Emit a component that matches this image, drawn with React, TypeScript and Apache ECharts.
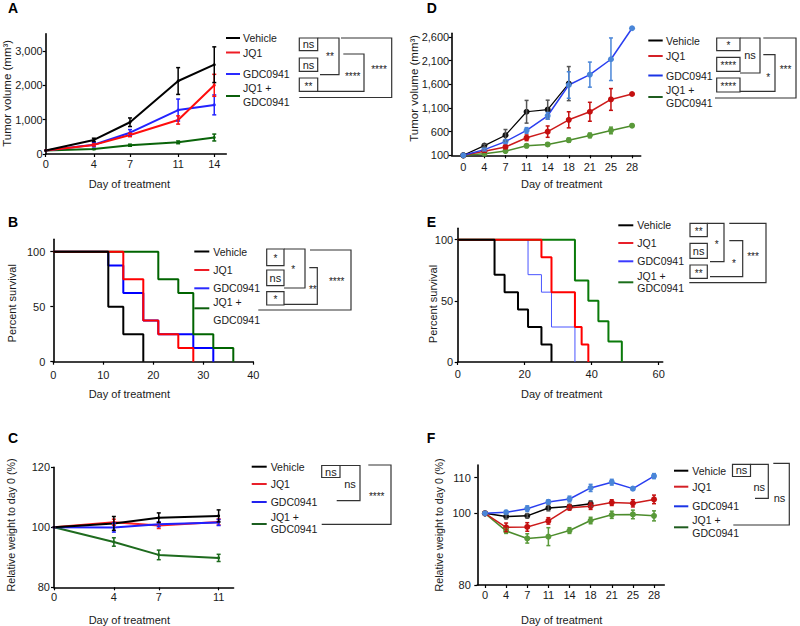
import React, { useEffect, useRef } from "react";
import * as echarts from "echarts";

const groupNames = ["Vehicle", "JQ1", "GDC0941", "JQ1 + GDC0941"];

// ---- Panel A: tumor volume ----
const aDays = [0, 4, 7, 11, 14];
const aVehicle = [100, 410, 925, 2125, 2600];
const aVehicleErr = [0, 50, 125, 390, 520];
const aJQ1 = [100, 265, 555, 990, 2000];
const aJQ1Err = [0, 30, 50, 120, 320];
const aGDC = [100, 270, 620, 1280, 1430];
const aGDCErr = [0, 60, 90, 320, 290];
const aCombo = [100, 145, 255, 340, 480];
const aComboErr = [0, 15, 30, 40, 100];
const aXTicks = [0, 4, 7, 11, 14];
const aYTicks = [0, 1000, 2000, 3000];

// ---- Panel B: survival ----
const bVehicleDays = [0, 11, 14, 18];
const bVehicleSurv = [100, 50, 25, 0];
const bJQ1Days = [0, 14, 18, 21, 25, 28];
const bJQ1Surv = [100, 75, 37.5, 25, 12.5, 0];
const bGDCDays = [0, 11, 14, 18, 21, 28, 32];
const bGDCSurv = [100, 87.5, 62.5, 37.5, 25, 12.5, 0];
const bComboDays = [0, 21, 25, 28, 32, 36];
const bComboSurv = [100, 75, 62.5, 25, 12.5, 0];
const bXTicks = [0, 10, 20, 30, 40];
const bYTicks = [0, 50, 100];

// ---- Panel C: body weight ----
const cDays = [0, 4, 7, 11];
const cVehicle = [100, 101.3, 103.2, 103.8];
const cVehicleErr = [0, 2.3, 1.6, 2.0];
const cJQ1 = [100, 101.7, 100.6, 101.8];
const cJQ1Err = [0, 1.0, 1.0, 1.0];
const cGDC = [100, 99.9, 101.0, 101.6];
const cGDCErr = [0, 1.5, 0.8, 1.0];
const cCombo = [100, 95.1, 90.8, 89.8];
const cComboErr = [0, 1.4, 1.6, 1.2];
const cXTicks = [0, 4, 7, 11];
const cYTicks = [80, 100, 120];

// ---- Panel D: tumor volume ----
const dDays = [0, 4, 7, 11, 14, 18, 21, 25, 28];
const dVehicle = [100, 305, 525, 1020, 1065, 1615];
const dVehicleErr = [0, 30, 120, 240, 200, 360];
const dJQ1 = [100, 185, 277, 470, 600, 850, 1020, 1280, 1395];
const dJQ1Err = [0, 20, 40, 60, 120, 170, 200, 230, 0];
const dGDC = [100, 220, 390, 625, 935, 1585, 1805, 2130, 2785];
const dGDCErr = [0, 25, 40, 60, 70, 280, 265, 450, 0];
const dCombo = [100, 135, 190, 300, 330, 420, 520, 625, 725];
const dComboErr = [0, 15, 25, 35, 30, 45, 50, 70, 0];
const dYTicks = [100, 600, 1100, 1600, 2100, 2600];

// ---- Panel E: survival ----
const eVehicleDays = [0, 11, 14, 18, 21, 25, 28];
const eVehicleSurv = [100, 71.4, 57.1, 42.9, 28.6, 14.3, 0];
const eJQ1Days = [0, 25, 28, 35, 37, 39];
const eJQ1Surv = [100, 85.7, 57.1, 28.6, 14.3, 0];
const eGDCDays = [0, 21, 25, 28, 35];
const eGDCSurv = [100, 71.4, 57.1, 28.6, 0];
const eComboDays = [0, 35, 39, 42, 45, 49];
const eComboSurv = [100, 66.7, 50, 33.3, 16.7, 0];
const eXTicks = [0, 20, 40, 60];
const eYTicks = [0, 50, 100];

// ---- Panel F: body weight ----
const fDays = [0, 4, 7, 11, 14, 18, 21, 25, 28];
const fVehicle = [100, 99.1, 99.3, 101.5, 101.9, 102.7];
const fVehicleErr = [0, 0.6, 0.6, 0.8, 0.6, 0.8];
const fJQ1 = [100, 96.1, 96.2, 97.9, 101.6, 102.0, 103.0, 102.8, 103.9];
const fJQ1Err = [0, 1.2, 1.2, 0.9, 0.7, 0.9, 0.8, 1.0, 1.2];
const fGDC = [100, 100.3, 101.3, 103.2, 104.0, 107.1, 108.7, 106.9, 110.4];
const fGDCErr = [0, 0.5, 0.8, 0.6, 0.8, 1.0, 0.8, 0.4, 0.7];
const fCombo = [100, 95.1, 93.0, 93.5, 95.2, 98.0, 99.6, 99.7, 99.3];
const fComboErr = [0, 0.7, 1.3, 2.5, 0.8, 0.9, 1.0, 1.2, 1.4];
const fYTicks = [80, 100, 110];

const FONT = "'Liberation Sans', Arial, Helvetica, sans-serif";
const TXT = "#1a1a1a";
const BR = "#333333";

const fmtComma = (v: number) => Number(v).toLocaleString("en-US");

function xAxisCfg(grid: number, min: number, max: number, ticks: number[], margin: number, fmt?: (v: number) => string) {
  return {
    type: "value", gridIndex: grid, min, max,
    axisLine: { show: true, onZero: false, lineStyle: { color: "#000", width: 1.6 } },
    axisTick: { show: true, length: 3, customValues: ticks, lineStyle: { color: "#000", width: 1.2 } },
    axisLabel: { customValues: ticks, margin, color: TXT, fontSize: 11, fontFamily: FONT, formatter: fmt || ((v: number) => String(v)) },
    splitLine: { show: false },
  };
}
function yAxisCfg(grid: number, min: number, max: number, ticks: number[], margin: number, fmt?: (v: number) => string) {
  return {
    type: "value", gridIndex: grid, min, max,
    axisLine: { show: true, onZero: false, lineStyle: { color: "#000", width: 1.6 } },
    axisTick: { show: true, length: 3, customValues: ticks, lineStyle: { color: "#000", width: 1.2 } },
    axisLabel: { customValues: ticks, margin, color: TXT, fontSize: 11, fontFamily: FONT, formatter: fmt || ((v: number) => String(v)) },
    splitLine: { show: false },
  };
}

function lineS(idx: number, name: string, pts: number[][], color: string, width: number, sym = 0, symColor?: string, z = 2, step?: string) {
  return {
    type: "line", name, xAxisIndex: idx, yAxisIndex: idx, data: pts, step: step || false,
    lineStyle: { color, width }, itemStyle: { color: symColor || color, borderWidth: 0 },
    symbol: sym ? "circle" : "none", symbolSize: sym, showSymbol: !!sym,
    clip: false, silent: true, z,
  };
}

function errS(idx: number, pts: number[][], color: string, width: number, cap: number, z = 3) {
  return {
    type: "custom", xAxisIndex: idx, yAxisIndex: idx, silent: true, clip: false, z,
    encode: { x: 0, y: 1 },
    data: pts.filter((p) => p[2] > 0),
    renderItem: (params: any, api: any) => {
      const x = api.value(0), y = api.value(1), e = api.value(2);
      const t = api.coord([x, y + e]);
      const b = api.coord([x, y - e]);
      const st = { stroke: color, lineWidth: width };
      return {
        type: "group",
        children: [
          { type: "line", shape: { x1: t[0], y1: t[1], x2: b[0], y2: b[1] }, style: st },
          { type: "line", shape: { x1: t[0] - cap, y1: t[1], x2: t[0] + cap, y2: t[1] }, style: st },
          { type: "line", shape: { x1: b[0] - cap, y1: b[1], x2: b[0] + cap, y2: b[1] }, style: st },
        ],
      };
    },
  };
}

const zip = (xs: number[], ys: number[]) => ys.map((v, i) => [xs[i], v]);
const zipIdx = (ys: number[]) => ys.map((v, i) => [i, v]);
const zip3 = (xs: number[], ys: number[], es: number[]) => ys.map((v, i) => [xs[i], v, es[i]]);
const zip3Idx = (ys: number[], es: number[]) => ys.map((v, i) => [i, v, es[i]]);

function txt(x: number, y: number, text: string, o: any = {}) {
  return {
    type: "text", x, y, rotation: o.rot || 0, silent: true, z: 10,
    style: {
      text, fill: o.color || TXT, fontSize: o.size || 10.5, fontFamily: FONT,
      fontWeight: o.weight || "normal", align: o.align || "left", verticalAlign: "middle",
    },
  };
}
function ln(x1: number, y1: number, x2: number, y2: number, color: string, w: number) {
  return { type: "line", silent: true, z: 10, shape: { x1, y1, x2, y2 }, style: { stroke: color, lineWidth: w } };
}

function legendEls(lx1: number, lx2: number, tx: number, ys: number[], colors: string[]) {
  const comboParts = groupNames[3].split(" + ");
  return [
    ln(lx1, ys[0], lx2, ys[0], colors[0], 2),
    txt(tx, ys[0], groupNames[0]),
    ln(lx1, ys[1], lx2, ys[1], colors[1], 2),
    txt(tx, ys[1], groupNames[1]),
    ln(lx1, ys[2], lx2, ys[2], colors[2], 2),
    txt(tx, ys[2], groupNames[2]),
    ln(lx1, ys[3], lx2, ys[3], colors[3], 2),
    txt(tx, ys[4], comboParts[0] + " +"),
    txt(tx, ys[5], comboParts[1]),
  ];
}

function boxEl(x1: number, x2: number, y1: number, y2: number, label: string) {
  return [
    { type: "rect", silent: true, z: 10, shape: { x: x1, y: y1, width: x2 - x1, height: y2 - y1 }, style: { stroke: BR, fill: "none", lineWidth: 1.2 } },
    txt((x1 + x2) / 2, (y1 + y2) / 2 + (label.includes("*") ? 1.5 : 0), label, { align: "center", size: label.includes("*") ? 10 : 11 }),
  ];
}
function bracketEl(pts: number[][], label: string, lx: number, ly: number) {
  return [
    { type: "polyline", silent: true, z: 10, shape: { points: pts }, style: { stroke: BR, fill: "none", lineWidth: 1.2 } },
    txt(lx, ly + (label.includes("*") ? 1.5 : 0), label, { align: "center", size: label.includes("*") ? 10 : 11 }),
  ];
}

const BLK = "#000000";

export default function App() {
  const ref = useRef<HTMLDivElement>(null);
  useEffect(() => {
    document.body.style.margin = "0";
    const chart = echarts.init(ref.current!, null, { renderer: "svg", width: 800, height: 626 });

    const red = "#ff0d0d", blue = "#2323ff", green = "#0a640a";
    const dRed = "#cc1a1a", dRedM = "#c41010", dBlue = "#2a3ff0", dBlueM = "#4a86d8", dGreen = "#4c8c2c", dGreenM = "#5a9a3a";

    const grids = [
      { left: 45.7, top: 33.8, width: 180.6, height: 120.2 }, // A
      { left: 53.3, top: 239.3, width: 200, height: 122.4 }, // B
      { left: 54, top: 467.3, width: 179.6, height: 120 }, // C
      { left: 451.7, top: 33.3, width: 189, height: 122 }, // D
      { left: 457.7, top: 228.3, width: 205, height: 133.7 }, // E
      { left: 477.3, top: 465, width: 187, height: 120 }, // F
    ];

    const dayFmt = (v: number) => String(dDays[Math.round(v)]);
    const fdayFmt = (v: number) => String(fDays[Math.round(v)]);

    const xAxes = [
      xAxisCfg(0, 0, 15, aXTicks, 4),
      xAxisCfg(1, 0, 40, bXTicks, 8),
      xAxisCfg(2, 0, 12, cXTicks, 4),
      xAxisCfg(3, -0.55, 8.41, dDays.map((_, i) => i), 6, dayFmt),
      xAxisCfg(4, 0, 61.2, eXTicks, 6),
      xAxisCfg(5, -0.364, 8.487, fDays.map((_, i) => i), 4.5, fdayFmt),
    ];
    const yAxes = [
      yAxisCfg(0, 0, 3500, aYTicks, 3, fmtComma),
      yAxisCfg(1, 0, 111.3, bYTicks, 8),
      yAxisCfg(2, 80, 120, cYTicks, 4),
      yAxisCfg(3, 100, 2678, dYTicks, 2.5, fmtComma),
      yAxisCfg(4, 0, 109.3, eYTicks, 4.5),
      yAxisCfg(5, 80, 113.5, fYTicks, 6.5),
    ];

    const series: any[] = [
      // A
      lineS(0, groupNames[3], zip(aDays, aCombo), green, 2, 3),
      lineS(0, groupNames[2], zip(aDays, aGDC), blue, 2, 3),
      lineS(0, groupNames[1], zip(aDays, aJQ1), red, 2, 3),
      lineS(0, groupNames[0], zip(aDays, aVehicle), BLK, 2, 3),
      errS(0, zip3(aDays, aCombo, aComboErr), green, 1.5, 2),
      errS(0, zip3(aDays, aGDC, aGDCErr), blue, 1.5, 2),
      errS(0, zip3(aDays, aJQ1, aJQ1Err), red, 1.5, 2),
      errS(0, zip3(aDays, aVehicle, aVehicleErr), BLK, 1.5, 2),
      // B
      lineS(1, groupNames[2], zip(bGDCDays, bGDCSurv), "#0000ff", 2, 0, undefined, 2, "end"),
      lineS(1, groupNames[3], zip(bComboDays, bComboSurv), "#006400", 2, 0, undefined, 3, "end"),
      lineS(1, groupNames[1], zip(bJQ1Days, bJQ1Surv), "#ff0000", 2, 0, undefined, 4, "end"),
      lineS(1, groupNames[0], zip(bVehicleDays, bVehicleSurv), BLK, 2, 0, undefined, 5, "end"),
      // C
      lineS(2, groupNames[3], zip(cDays, cCombo), "#1e6b1e", 2, 3),
      lineS(2, groupNames[1], zip(cDays, cJQ1), "#ff2020", 2, 3),
      lineS(2, groupNames[2], zip(cDays, cGDC), "#2020ff", 2, 3),
      lineS(2, groupNames[0], zip(cDays, cVehicle), BLK, 2, 3),
      errS(2, zip3(cDays, cCombo, cComboErr), "#1e6b1e", 1.5, 2),
      errS(2, zip3(cDays, cJQ1, cJQ1Err), "#ff2020", 1.5, 2),
      errS(2, zip3(cDays, cGDC, cGDCErr), "#2020ff", 1.5, 2),
      errS(2, zip3(cDays, cVehicle, cVehicleErr), BLK, 1.5, 2),
      // D
      lineS(3, groupNames[3], zipIdx(dCombo), dGreen, 1.5, 6, dGreenM),
      lineS(3, groupNames[1], zipIdx(dJQ1), dRed, 1.5, 6, dRedM),
      lineS(3, groupNames[0], zipIdx(dVehicle), BLK, 1.2, 6, "#111"),
      lineS(3, groupNames[2], zipIdx(dGDC), dBlue, 1.5, 6, dBlueM),
      errS(3, zip3Idx(dCombo, dComboErr), dGreenM, 1.5, 2),
      errS(3, zip3Idx(dJQ1, dJQ1Err), dRedM, 1.5, 2),
      errS(3, zip3Idx(dVehicle, dVehicleErr), "#555", 1.5, 2),
      errS(3, zip3Idx(dGDC, dGDCErr), dBlueM, 1.5, 2),
      // E
      lineS(4, groupNames[2], zip(eGDCDays, eGDCSurv), "#4a55ff", 1, 0, undefined, 2, "end"),
      lineS(4, groupNames[3], zip(eComboDays, eComboSurv), "#0a7a0a", 2, 0, undefined, 3, "end"),
      lineS(4, groupNames[1], zip(eJQ1Days, eJQ1Surv), "#ff0000", 2, 0, undefined, 4, "end"),
      lineS(4, groupNames[0], zip(eVehicleDays, eVehicleSurv), BLK, 2, 0, undefined, 5, "end"),
      // F
      lineS(5, groupNames[3], zipIdx(fCombo), dGreen, 1.5, 6, dGreenM),
      lineS(5, groupNames[0], zipIdx(fVehicle), BLK, 1.5, 6, "#111"),
      lineS(5, groupNames[1], zipIdx(fJQ1), dRed, 1.5, 6, dRedM),
      lineS(5, groupNames[2], zipIdx(fGDC), dBlue, 1.5, 6, dBlueM),
      errS(5, zip3Idx(fCombo, fComboErr), dGreenM, 1.5, 2),
      errS(5, zip3Idx(fVehicle, fVehicleErr), "#555", 1.5, 2),
      errS(5, zip3Idx(fJQ1, fJQ1Err), dRedM, 1.5, 2),
      errS(5, zip3Idx(fGDC, fGDCErr), dBlueM, 1.5, 2),
    ];

    const legColsA = [BLK, "#ee1c25", "#2a2aff", "#0b5e0b"];
    const legColsD = [BLK, "#d42026", "#1a34e6", "#1f5c1f"];

    const graphics: any[] = [
      // panel letters
      txt(8, 7.5, "A", { size: 14, weight: "bold", color: "#000" }),
      txt(8, 221.7, "B", { size: 14, weight: "bold", color: "#000" }),
      txt(8, 438.3, "C", { size: 14, weight: "bold", color: "#000" }),
      txt(426.7, 7.5, "D", { size: 14, weight: "bold", color: "#000" }),
      txt(426.7, 221.7, "E", { size: 14, weight: "bold", color: "#000" }),
      txt(426.7, 438.3, "F", { size: 14, weight: "bold", color: "#000" }),
      // axis titles
      txt(7, 93.3, "Tumor volume (mm\u00B3)", { size: 11.5, rot: Math.PI / 2, align: "center" }),
      txt(129.3, 184, "Day of treatment", { size: 11, align: "center" }),
      txt(11.7, 303.3, "Percent survival", { size: 11, rot: Math.PI / 2, align: "center" }),
      txt(129.3, 394, "Day of treatment", { size: 11, align: "center" }),
      txt(11, 525, "Relative weight to day 0 (%)", { size: 10.7, rot: Math.PI / 2, align: "center" }),
      txt(129.3, 620, "Day of treatment", { size: 11, align: "center" }),
      txt(413.7, 88.3, "Tumor volume (mm\u00B3)", { size: 11.5, rot: Math.PI / 2, align: "center" }),
      txt(561.7, 184, "Day of treatment", { size: 11, align: "center" }),
      txt(432.5, 304, "Percent survival", { size: 11, rot: Math.PI / 2, align: "center" }),
      txt(561.7, 394, "Day of treatment", { size: 11, align: "center" }),
      txt(438.7, 525, "Relative weight to day 0 (%)", { size: 10.7, rot: Math.PI / 2, align: "center" }),
      txt(561.7, 620, "Day of treatment", { size: 11, align: "center" }),
      // legends
      ...legendEls(226, 240, 243, [38, 52.5, 74, 96, 88, 101.5], legColsA),
      ...legendEls(194.3, 209.3, 213.3, [251.5, 270, 288.3, 308.3, 301.7, 320], legColsA),
      ...legendEls(251.7, 266.7, 270.7, [466.7, 484, 502, 524, 516.7, 529.3], [BLK, "#e8202a", "#2222ee", "#1b5e20"]),
      ...legendEls(648.3, 662.7, 666, [40.5, 56, 75.5, 97, 89.7, 103], legColsD),
      ...legendEls(618.3, 633.3, 637.3, [225.3, 243, 261.3, 282.3, 275.7, 288.3], [BLK, "#e8202a", "#3a3aff", "#1b6e1b"]),
      ...legendEls(674, 688.3, 692.3, [470.7, 486.7, 506.3, 527.3, 520, 533.3], legColsD),
      // A significance
      ...boxEl(299.3, 317.7, 38, 50.7, "ns"),
      ...boxEl(299.3, 317.7, 58, 71.3, "ns"),
      ...boxEl(299.3, 317.7, 78, 91.3, "**"),
      ...bracketEl([[317.7, 38], [339, 38], [339, 74.7], [320, 74.7]], "**", 330, 54.7),
      ...bracketEl([[343.3, 54], [364, 54], [364, 91.3], [317.7, 91.3]], "****", 352.7, 74.7),
      ...bracketEl([[341, 38], [391.7, 38], [391.7, 97.5], [299.3, 97.5]], "****", 379, 68),
      // B significance
      ...boxEl(266.7, 284, 249, 265.7, "*"),
      ...boxEl(266.7, 284, 270, 285.7, "ns"),
      ...boxEl(266.7, 284, 291.7, 305, "*"),
      ...bracketEl([[284, 249], [305, 249], [305, 288], [284, 288]], "*", 293.3, 268),
      ...bracketEl([[309.3, 267.7], [317.3, 267.7], [317.3, 304.3], [284, 304.3]], "**", 312.8, 288.3),
      ...bracketEl([[310, 250], [351, 250], [351, 310], [258.3, 310]], "****", 336.7, 280),
      // C significance
      ...boxEl(321.7, 340, 465.5, 477.5, "ns"),
      ...bracketEl([[340, 465.5], [360, 465.5], [360, 500.7], [336.7, 500.7]], "ns", 350, 484.3),
      ...bracketEl([[368.3, 465], [391, 465], [391, 524.3], [321.7, 524.3]], "****", 376.7, 495),
      // D significance
      ...boxEl(716.7, 740, 38, 50.7, "*"),
      ...boxEl(716.7, 740, 57.3, 71.3, "****"),
      ...boxEl(716.7, 740, 78, 92, "****"),
      ...bracketEl([[740, 38], [760, 38], [760, 73], [740, 73]], "ns", 750, 54.7),
      ...bracketEl([[763.3, 54.7], [775, 54.7], [775, 91.3], [740, 91.3]], "*", 768.3, 76.3),
      ...bracketEl([[763.3, 38], [796, 38], [796, 98], [715, 98]], "***", 785.5, 68),
      // E significance
      ...boxEl(690, 707.3, 223.3, 236.7, "**"),
      ...boxEl(690, 707.3, 243.3, 258.3, "ns"),
      ...boxEl(690, 707.3, 265, 278.3, "**"),
      ...bracketEl([[707.3, 223.3], [724, 223.3], [724, 261.7], [710, 261.7]], "*", 716.7, 242.7),
      ...bracketEl([[729.3, 240.7], [742.7, 240.7], [742.7, 276.7], [710, 276.7]], "*", 734, 261.7),
      ...bracketEl([[729.3, 223.3], [766, 223.3], [766, 282.7], [689.3, 282.7]], "***", 753, 255),
      // F significance
      ...boxEl(732.5, 750.5, 464.3, 476.5, "ns"),
      ...bracketEl([[750.5, 464.3], [768.3, 464.3], [768.3, 498.3], [755, 498.3]], "ns", 759.3, 486.7),
      ...bracketEl([[773.3, 463.3], [789.3, 463.3], [789.3, 525], [733.3, 525]], "ns", 779.5, 498.3),
    ];

    chart.setOption({
      animation: false,
      backgroundColor: "#ffffff",
      textStyle: { fontFamily: FONT },
      grid: grids,
      xAxis: xAxes,
      yAxis: yAxes,
      series,
      graphic: { elements: graphics },
    });
    return () => chart.dispose();
  }, []);
  return <div ref={ref} style={{ width: 800, height: 626 }} />;
}
